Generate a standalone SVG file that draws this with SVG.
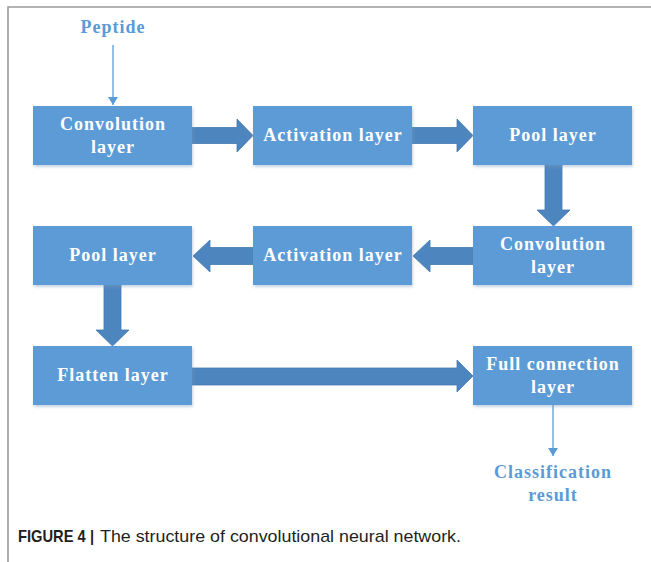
<svg xmlns="http://www.w3.org/2000/svg" width="651" height="562" viewBox="0 0 651 562">
<defs>
<filter id="sh" x="-10%" y="-10%" width="120%" height="130%">
<feDropShadow dx="1" dy="2" stdDeviation="1.5" flood-color="#7f9fbf" flood-opacity="0.45"/>
</filter>
<marker id="ah" markerWidth="10" markerHeight="10" refX="8" refY="5" orient="auto" markerUnits="userSpaceOnUse" viewBox="0 0 10 10">
<path d="M0,0 L8,5 L0,10 Z" fill="#5b9bd5"/>
</marker>
</defs>
<style>
.box{fill:#5b9bd5;filter:url(#sh)}
.t{font-family:"Liberation Serif","Times New Roman",serif;font-weight:bold;font-size:18px;fill:#ffffff;text-anchor:middle;letter-spacing:1px}
.b{font-family:"Liberation Serif","Times New Roman",serif;font-weight:bold;font-size:18px;fill:#5b9bd5;text-anchor:middle;letter-spacing:1px}
.arr{fill:#4d86bf;stroke:#4479b0;stroke-width:0.8}
.ln{stroke:#5b9bd5;stroke-width:1.3;fill:none}
.cap{font-family:"Liberation Sans",Arial,sans-serif;font-size:17px;fill:#231f20}
</style>
<rect width="651" height="562" fill="#ffffff"/>
<path d="M8,562 L8,7 L651,7" fill="none" stroke="#9a9a9a" stroke-width="1.6"/>

<g id="connectors">
<path class="arr" d="M192,127.5 L237,127.5 L237,119 L253,135.5 L237,152 L237,143.5 L192,143.5 Z"/>
<path class="arr" d="M412,127.5 L457,127.5 L457,119 L473,135.5 L457,152 L457,143.5 L412,143.5 Z"/>
<path class="arr" d="M545,165 L545,210 L537,210 L553.5,226 L570,210 L562,210 L562,165 Z"/>
<path class="arr" d="M473,247.5 L430,247.5 L430,240 L413,256 L430,272 L430,264.5 L473,264.5 Z"/>
<path class="arr" d="M253,247.5 L210,247.5 L210,240 L193,256 L210,272 L210,264.5 L253,264.5 Z"/>
<path class="arr" d="M104,285 L104,330 L96,330 L112.5,346 L129,330 L121,330 L121,285 Z"/>
<path class="arr" d="M192,368 L457,368 L457,360 L473,376 L457,392 L457,385 L192,385 Z"/>
<line class="ln" x1="113" y1="45" x2="113" y2="105" marker-end="url(#ah)"/>
<line class="ln" x1="553" y1="405" x2="553" y2="456" marker-end="url(#ah)"/>
</g>

<g id="peptide"><text class="b" x="113" y="33">Peptide</text></g>

<g id="conv1"><rect class="box" x="33" y="106" width="159" height="59"/>
<text class="t" x="113" y="130">Convolution</text><text class="t" x="113" y="153">layer</text></g>
<g id="act1"><rect class="box" x="253" y="106" width="159" height="59"/>
<text class="t" x="333" y="141">Activation layer</text></g>
<g id="pool1"><rect class="box" x="473" y="106" width="159" height="59"/>
<text class="t" x="553" y="141">Pool layer</text></g>

<g id="conv2"><rect class="box" x="473" y="226" width="159" height="59"/>
<text class="t" x="553" y="250">Convolution</text><text class="t" x="553" y="273">layer</text></g>
<g id="act2"><rect class="box" x="253" y="226" width="159" height="59"/>
<text class="t" x="333" y="261">Activation layer</text></g>
<g id="pool2"><rect class="box" x="33" y="226" width="159" height="59"/>
<text class="t" x="113" y="261">Pool layer</text></g>

<g id="flatten"><rect class="box" x="33" y="346" width="159" height="59"/>
<text class="t" x="113" y="381">Flatten layer</text></g>
<g id="full"><rect class="box" x="473" y="346" width="159" height="59"/>
<text class="t" x="553" y="370">Full connection</text><text class="t" x="553" y="393">layer</text></g>

<g id="result"><text class="b" x="553" y="478">Classification</text><text class="b" x="553" y="501">result</text></g>

<g id="caption">
<text class="cap" x="18" y="542" font-weight="bold" textLength="76" lengthAdjust="spacingAndGlyphs">FIGURE 4 |</text>
<text class="cap" x="100" y="542" textLength="361" lengthAdjust="spacingAndGlyphs">The structure of convolutional neural network.</text>
</g>
</svg>
